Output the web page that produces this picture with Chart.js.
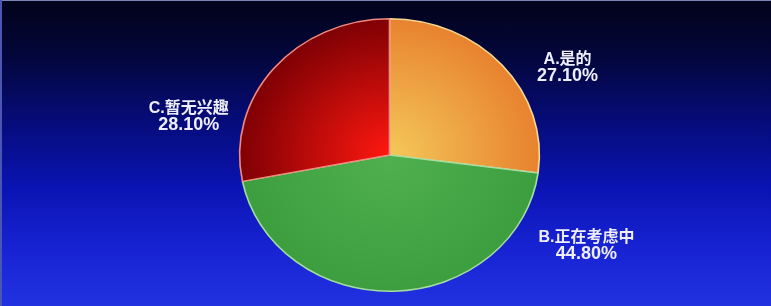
<!DOCTYPE html>
<html>
<head>
<meta charset="utf-8">
<script src="https://cdn.jsdelivr.net/npm/chart.js@4"></script>
<style>
  html, body { margin: 0; padding: 0; }
  body {
    width: 771px; height: 306px; overflow: hidden;
    background: linear-gradient(to bottom, #02031a 0%, #03063a 18%, #060c7a 40%, #0a14b4 62%, #1824d4 82%, #2232e0 100%);
  }
  #wrap { position: relative; width: 771px; height: 306px; }
  #wrap::before { content: ''; position: absolute; left: 0; top: 0; width: 771px; height: 1px; background: #7a86b8; }
  #wrap::after { content: ''; position: absolute; left: 0; top: 0; width: 2px; height: 306px; background: #4a56b0; }
</style>
</head>
<body>
<div id="wrap"><canvas id="pieChart" width="771" height="306"></canvas></div>
<script>
const labels = ['A.是的', 'B.正在考虑中', 'C.暂无兴趣'];
const shares = [27.10, 44.80, 28.10];

// radial colour stops per slice: inner, outer
const innerColors = ['#f4c85a', '#50b050', '#ff1810'];
const outerColors = ['#e8822e', '#3c9e3e', '#7e0004'];
const edgeColors = ['#f6d890', '#a6dca0', '#f08a80'];

// the reference pie is a bit wider than tall
const stretchX = 1.1;

function sliceFill(ctx) {
  const chart = ctx.chart;
  const a = chart.chartArea;
  if (!a) return innerColors[ctx.dataIndex];
  const cx = (a.left + a.right) / 2;
  const cy = (a.top + a.bottom) / 2;
  const r = Math.min(a.right - a.left, a.bottom - a.top) / 2;
  const g = chart.ctx.createRadialGradient(cx, cy, 0, cx, cy, r);
  g.addColorStop(0, innerColors[ctx.dataIndex]);
  g.addColorStop(1, outerColors[ctx.dataIndex]);
  return g;
}

const stretchPlugin = {
  id: 'stretch',
  beforeDatasetsDraw(chart) {
    const a = chart.chartArea;
    const cx = (a.left + a.right) / 2;
    chart.ctx.save();
    chart.ctx.translate(cx, 0);
    chart.ctx.scale(stretchX, 1);
    chart.ctx.translate(-cx, 0);
  },
  afterDatasetsDraw(chart) {
    chart.ctx.restore();
  }
};

// label anchors relative to pie centre, in units of the radius
const labelOffsets = [[1.307, -0.642], [1.445, 0.664], [-1.474, -0.285]];

const labelPlugin = {
  id: 'sliceLabels',
  afterDraw(chart) {
    const arc = chart.getDatasetMeta(0).data[0];
    const cx = arc.x, cy = arc.y, r = arc.outerRadius;
    const c = chart.ctx;
    c.save();
    c.fillStyle = '#eeeeff';
    c.textAlign = 'center';
    c.textBaseline = 'middle';
    labels.forEach((lab, i) => {
      const x = cx + labelOffsets[i][0] * r;
      const y = cy + labelOffsets[i][1] * r;
      c.font = 'bold 16px "Liberation Sans", Arial, "Noto Sans CJK SC", sans-serif';
      c.fillText(lab, x, y - 8);
      c.font = 'bold 18px "Liberation Sans", Arial, sans-serif';
      c.fillText(shares[i].toFixed(2) + '%', x, y + 9);
    });
    c.restore();
  }
};

new Chart(document.getElementById('pieChart'), {
  type: 'pie',
  data: {
    labels: labels,
    datasets: [{
      data: shares,
      backgroundColor: sliceFill,
      borderColor: edgeColors,
      borderWidth: 1.5
    }]
  },
  options: {
    responsive: false,
    animation: false,
    layout: { padding: { top: 18, bottom: 14, left: 19, right: 11 } },
    plugins: {
      legend: { display: false },
      tooltip: { enabled: false }
    }
  },
  plugins: [stretchPlugin, labelPlugin]
});
</script>
</body>
</html>
